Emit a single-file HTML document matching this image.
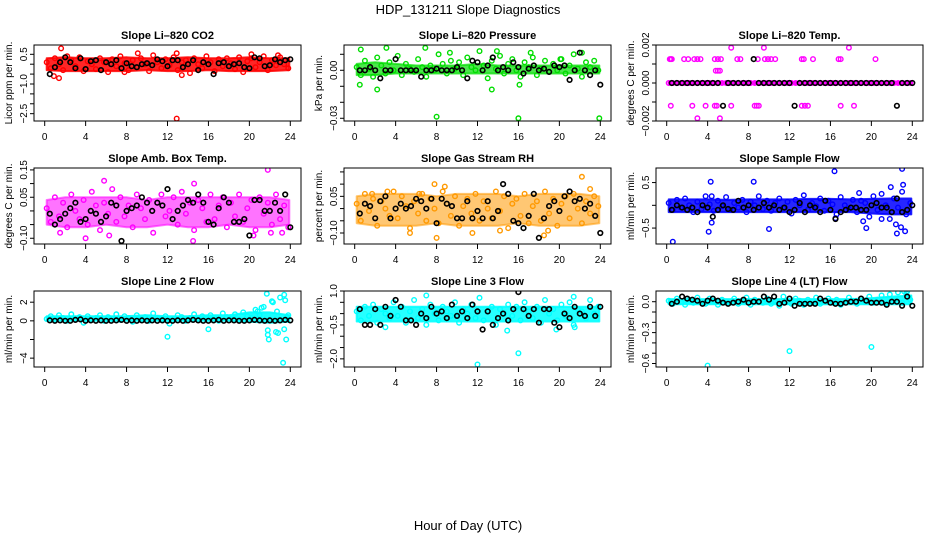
<!DOCTYPE html>
<html><head><meta charset="utf-8"><style>
html,body{margin:0;padding:0;background:#fff;}
svg{display:block;font-family:"Liberation Sans",Arial,sans-serif;}
</style></head><body>
<svg id="chart" width="936" height="540" viewBox="0 0 936 540" xmlns="http://www.w3.org/2000/svg">
<text x="468" y="14" text-anchor="middle" font-size="13">HDP_131211  Slope Diagnostics</text>
<text x="468" y="530" text-anchor="middle" font-size="13">Hour of Day (UTC)</text>
</svg>
<script>
const xTicks = [0,4,8,12,16,20,24];
const bandHours = [0.2,2,4,6,8,10,12,14,16,18,20,22,23.9];

const co2Vals = [0.1,-0.2,0.3,0.0,-0.3,0.4,0.2,-0.1,0.35,-0.35,0.15,0.0,-0.25,0.3,0.1,-0.4,0.25,-0.1,0.4,0.05,-0.3,0.2,-0.15,0.3,0.0,-0.35,0.45,0.1,-0.2,0.25,-0.05,0.35,-0.3,0.1,0.2,-0.45,0.3,0.0,-0.2,0.4,0.1,-0.35,0.25,-0.1,0.3,0.05,-0.25,0.35,-0.4,0.15,0.3,-0.15,0.1,0.4,-0.3,0.2,-0.05,0.35,0.0,-0.2];
const co2Black = [-0.5,-0.15,0.1,0.35,0.1,-0.2,0.3,-0.25,0.15,0.2,-0.3,0.1,0.0,0.2,-0.2,0.05,-0.1,-0.15,0.0,0.05,-0.05,0.25,0.15,-0.1,0.2,0.2,-0.15,0.0,0.2,-0.3,0.1,0.0,-0.5,0.05,0.1,-0.1,0.0,0.05,-0.15,-0.2,0.35,0.3,-0.1,-0.05,0.25,0.1,0.2,0.25];
const co2OutH = [1.6,1.4,0.9,12.9,9.1,12.9,13.4,20.2,22.8,7.8];
const co2OutV = [0.8,-0.7,-0.6,-2.75,0.55,0.55,-0.55,0.5,0.45,-0.4];
const co2Lo = [-0.3,-0.35,-0.35,-0.35,-0.35,-0.3,-0.35,-0.35,-0.3,-0.35,-0.35,-0.35,-0.3];
const co2Hi = [0.3,0.35,0.3,0.3,0.35,0.3,0.3,0.35,0.3,0.3,0.35,0.3,0.3];

const presVals = [0.002,-0.003,0.006,0.001,-0.004,0.008,0.003,-0.002,0.005,0.000,0.009,-0.003,0.004,0.001,-0.001,0.007,0.002,-0.004,0.003,0.000,0.010,0.004,-0.002,0.006,0.001,0.005,-0.003,0.008,0.002,0.000,0.012,0.003,-0.005,0.006,0.001,0.009,-0.002,0.004,0.007,0.000,-0.004,0.005,0.002,0.008,-0.003,0.001,0.006,-0.001,0.004,0.000,0.007,-0.002,0.003,0.010,0.001,-0.004,0.005,0.002,0.006,0.000];
const presBlack = [0,0,0.002,0,-0.005,0,0,0.007,0,0,0,0,-0.004,0,0,0.001,0,0,0,0.002,0,-0.005,0.006,0.005,0,0.003,0.008,0,0.002,0,0.005,0.002,-0.002,0.001,0.003,0,0.001,-0.001,0.003,0.002,0.003,-0.006,0,0.011,0,-0.003,0,-0.009];
const presOutH = [8.0,16.0,23.9,2.2,13.4,0.6,3.1,6.9,22.2,13.9,9.3,20.1,17.2,0.5,16.1];
const presOutV = [-0.029,-0.030,-0.030,-0.012,-0.012,0.013,0.014,0.014,0.011,0.012,0.011,0.007,0.011,-0.009,-0.009];
const presLo = [-0.003,-0.003,-0.002,-0.002,-0.002,-0.002,-0.002,-0.002,-0.002,-0.002,-0.002,-0.002,-0.002];
const presHi = [0.004,0.005,0.004,0.003,0.003,0.003,0.004,0.003,0.003,0.003,0.003,0.003,0.003];

const tempVals = [0,0,0,0,0,0,0,0,0,0,0,0,0,0,0,0,0,0,0,0,0,0,0,0,0,0,0,0,0,0,0,0,0,0,0,0,0,0,0,0,0,0,0,0,0,0,0,0,0,0,0,0,0,0,0,0,0,0,0,0];
const tempBlack = [0,0,0,0,0,0,0,0,0,0,-0.0012,0,0,0,0,0,0.00126,0,0,0,0,0,0,0,-0.0012,0,0,0,0,0,0,0,0,0,0,0,0,0,0,0,0,0,0,0,-0.0012,0,0,0];
const tempOutH = [0.3,0.4,0.5,1.7,2.1,2.7,3.0,3.3,4.7,5.0,5.3,6.9,7.2,8.9,9.6,9.9,10.2,10.6,13.2,13.4,14.3,16.8,17.0,20.4,6.3,9.5,17.8,4.8,5.0,5.2,0.4,2.5,3.8,4.7,4.9,6.3,8.6,8.8,9.0,13.2,13.5,13.8,17.0,18.3,3.0,5.2];
const tempOutV = [0.00126,0.00126,0.00126,0.00126,0.00126,0.00126,0.00126,0.00126,0.00126,0.00126,0.00126,0.00126,0.00126,0.00126,0.00126,0.00126,0.00126,0.00126,0.00126,0.00126,0.00126,0.00126,0.00126,0.00126,0.00186,0.00186,0.00186,0.00065,0.00065,0.00065,-0.0012,-0.0012,-0.0012,-0.0012,-0.0012,-0.0012,-0.0012,-0.0012,-0.0012,-0.0012,-0.0012,-0.0012,-0.0012,-0.0012,-0.00186,-0.00186];
const tempLo = [-0.00005,-0.00005,-0.00005,-0.00005,-0.00005,-0.00005,-0.00005,-0.00005,-0.00005,-0.00005,-0.00005,-0.00005,-0.00005];
const tempHi = [0.00005,0.00005,0.00005,0.00005,0.00005,0.00005,0.00005,0.00005,0.00005,0.00005,0.00005,0.00005,0.00005];

const ambVals = [0.01,-0.04,0.05,-0.02,0.03,-0.06,0.06,0.00,-0.03,0.04,-0.05,0.07,0.02,-0.07,0.03,-0.01,0.08,-0.04,0.05,-0.02,0.02,-0.06,0.06,0.01,-0.03,0.04,-0.08,0.03,0.06,-0.02,0.00,0.05,-0.05,0.07,-0.01,0.03,-0.07,0.04,0.01,-0.04,0.06,-0.03,0.02,0.05,-0.06,0.03,-0.02,0.06,-0.04,0.01,0.04,-0.07,0.05,-0.01,0.03,-0.05,0.06,-0.03,0.02,-0.06];
const ambBlack = [-0.01,-0.05,-0.03,-0.01,0.01,0.03,-0.04,-0.03,0.00,-0.01,-0.04,-0.02,0.03,0.02,-0.11,0.00,0.01,0.02,0.05,0.03,0.00,0.03,0.02,0.08,-0.03,0.00,0.02,0.04,0.03,0.06,0.03,-0.04,-0.05,0.01,0.05,0.03,-0.04,-0.04,-0.03,-0.09,0.04,0.04,0.00,0.00,0.03,0.00,0.06,-0.06];
const ambOutH = [21.8,14.5,4.0,5.8,14.6,1.5,20.4,6.3,22.1,23.2];
const ambOutV = [0.15,-0.11,-0.10,0.11,0.10,-0.08,-0.09,-0.09,-0.08,-0.08];
const ambLo = [-0.05,-0.06,-0.06,-0.05,-0.06,-0.06,-0.05,-0.06,-0.06,-0.05,-0.06,-0.06,-0.05];
const ambHi = [0.04,0.05,0.05,0.05,0.05,0.04,0.05,0.05,0.05,0.05,0.05,0.05,0.04];

const rhVals = [0.02,-0.05,0.06,-0.01,0.04,-0.07,0.03,0.00,-0.03,0.07,-0.04,0.05,0.01,-0.08,0.03,-0.02,0.06,-0.05,0.04,0.00,-0.06,0.07,0.02,-0.03,0.05,-0.07,0.01,0.04,-0.02,0.06,-0.05,0.03,0.00,-0.04,0.07,-0.01,0.05,-0.08,0.02,0.04,-0.03,0.06,-0.06,0.01,0.03,-0.05,0.07,-0.02,0.04,-0.07,0.02,0.05,-0.04,0.06,0.00,-0.06,0.03,-0.02,0.05,0.01];
const rhBlack = [-0.02,0.02,0.01,-0.04,0.03,0.05,-0.04,0.00,0.02,0.00,0.01,0.04,0.03,0.00,0.04,-0.06,0.04,0.02,0.01,-0.04,-0.04,0.03,-0.04,-0.01,-0.04,0.03,-0.04,-0.01,0.10,0.06,-0.05,-0.06,-0.08,-0.03,0.06,-0.12,-0.04,0.01,0.03,-0.01,0.05,0.07,0.03,0.04,0.00,0.02,-0.03,-0.10];
const rhOutH = [7.8,22.2,8.0,18.5,23.0,1.7,3.2,5.4,8.8,14.2,18.9,11.5,6.3];
const rhOutV = [0.10,0.13,-0.12,-0.11,0.08,0.06,0.07,-0.10,0.09,-0.09,-0.09,-0.10,0.06];
const rhLo = [-0.06,-0.07,-0.07,-0.07,-0.06,-0.07,-0.07,-0.07,-0.06,-0.07,-0.07,-0.07,-0.06];
const rhHi = [0.05,0.06,0.06,0.06,0.05,0.06,0.06,0.06,0.05,0.06,0.06,0.06,0.05];

const flowVals = [0.05,-0.1,0.12,-0.05,0.15,0.0,-0.15,0.08,-0.08,0.2,0.02,-0.12,0.1,-0.02,0.18,-0.1,0.05,-0.05,0.12,-0.15,0.08,0.0,0.2,-0.08,0.1,-0.12,0.05,0.15,-0.05,0.08,-0.18,0.12,0.0,0.22,-0.1,0.05,-0.02,0.15,-0.12,0.1,0.02,-0.2,0.18,0.0,-0.08,0.12,-0.15,0.1,0.05,-0.25,0.2,-0.1,0.25,0.0,-0.3,0.15,-0.05,0.3,-0.2,0.05];
const flowBlack = [-0.1,0.0,-0.05,-0.1,-0.05,-0.15,0.0,-0.05,-0.25,-0.1,0.0,-0.08,-0.1,0.1,-0.05,0.0,-0.1,-0.05,0.05,-0.05,0.0,-0.1,-0.05,-0.15,-0.1,0.05,-0.15,0.0,-0.05,-0.15,0.1,-0.1,-0.3,-0.15,-0.1,-0.05,-0.05,-0.1,-0.1,0.0,0.05,-0.05,-0.05,-0.15,0.15,-0.15,-0.1,0.0];
const flowOutH = [0.6,4.1,4.3,4.4,8.5,10.0,16.4,16.5,23.0,23.1,22.5,21.9,22.9,23.3,19.5,19.2,18.8,22.4,21.0,4.4];
const flowOutV = [-0.8,-0.58,0.52,-0.38,0.52,-0.52,0.75,-0.28,0.8,0.45,-0.62,0.4,-0.48,-0.57,-0.5,-0.35,0.27,-0.42,-0.3,0.2];
const flowLo = [-0.15,-0.15,-0.15,-0.15,-0.15,-0.15,-0.15,-0.15,-0.15,-0.15,-0.18,-0.2,-0.2];
const flowHi = [0.13,0.13,0.13,0.12,0.13,0.13,0.13,0.14,0.14,0.13,0.14,0.15,0.15];

const l2Vals = [0.2,0.5,0.1,0.6,0.3,0.0,0.7,0.2,0.4,-0.2,0.5,0.1,0.3,0.6,0.0,0.4,0.2,0.7,0.1,0.5,0.3,-0.1,0.6,0.2,0.4,0.0,0.8,0.3,0.1,0.5,-0.3,0.2,0.6,0.4,0.0,0.3,0.7,0.1,0.5,0.2,0.6,0.3,0.0,0.8,0.4,0.2,0.7,0.1,0.9,0.5,0.3,1.2,0.6,1.5,-1.0,2.1,-1.2,2.5,-0.9,0.6];
const l2Black = [0.05,0.0,0.05,0.0,0.0,0.1,0.15,0.0,0.05,0.0,0.05,0.0,0.0,0.05,0.1,0.0,0.05,0.0,0.05,0.0,0.05,0.0,0.05,0.0,0.0,0.05,0.0,0.05,0.1,0.05,0.0,0.0,0.05,0.1,0.0,0.05,0.05,0.0,0.0,0.05,0.1,0.05,0.0,0.05,0.0,0.05,0.1,0.05];
const l2OutH = [12,16,21.7,21.8,21.9,22.3,22.8,23.3,23.4,23.6,23.7,23.5,20.8,21.2,22.7];
const l2OutV = [-1.7,-0.9,2.9,-1.5,-2.0,2.0,-1.3,-4.5,2.8,-2.0,0.4,2.2,1.0,1.4,1.0];
const l2Lo = [0.0,0.0,0.0,0.0,0.0,0.0,0.0,0.0,0.0,0.0,-0.1,-0.2,-0.1];
const l2Hi = [0.5,0.5,0.5,0.5,0.5,0.6,0.5,0.5,0.6,0.6,0.9,0.9,0.6];

const l3Vals = [0.1,-0.3,0.3,-0.1,0.4,-0.4,0.2,0.0,-0.2,0.5,-0.1,0.3,-0.4,0.1,0.6,-0.2,0.2,-0.5,0.4,0.0,-0.3,0.3,0.1,-0.1,0.5,-0.4,0.2,0.0,0.4,-0.2,0.7,-0.3,0.1,0.3,-0.5,0.2,0.0,0.4,-0.1,0.3,-0.3,0.5,0.1,-0.2,0.3,-0.4,0.6,0.0,0.2,-0.3,0.4,-0.1,0.5,-0.5,0.2,0.1,-0.2,0.6,0.0,0.3];
const l3Black = [0.2,-0.5,-0.5,0.2,-0.5,0.3,-0.1,0.6,0.3,-0.3,-0.3,-0.5,0.0,-0.2,0.3,0.0,0.1,-0.2,0.4,-0.1,0.1,-0.2,0.4,0.1,-0.7,0.1,-0.5,-0.2,0.0,-0.3,0.2,0.95,0.2,-0.1,0.2,-0.4,0.2,0.2,-0.4,-0.6,0.0,-0.2,0.3,0.0,-0.1,0.3,-0.1,0.3];
const l3OutH = [12,16,3,14.9,19.7,21.4,7,21.5];
const l3OutV = [-2.25,-1.75,-0.6,-0.75,-0.7,0.75,0.8,-0.6];
const l3Lo = [-0.35,-0.35,-0.35,-0.35,-0.35,-0.35,-0.35,-0.35,-0.35,-0.35,-0.35,-0.35,-0.35];
const l3Hi = [0.3,0.3,0.3,0.3,0.3,0.3,0.3,0.3,0.3,0.3,0.3,0.3,0.3];

const l4Vals = [0.01,-0.02,0.03,0.0,-0.03,0.02,-0.01,0.04,0.0,-0.02,0.03,0.01,-0.03,0.02,0.0,-0.01,0.03,-0.02,0.01,0.04,-0.03,0.02,0.0,-0.01,0.03,-0.02,0.01,-0.04,0.05,0.0,-0.02,0.03,0.01,-0.03,0.02,0.0,0.04,-0.02,0.01,0.03,-0.01,0.02,-0.03,0.0,0.04,0.01,-0.02,0.03,0.0,0.05,-0.01,0.02,0.06,-0.02,0.07,0.01,0.09,-0.01,0.08,0.02];
const l4Black = [-0.02,0.0,0.05,0.03,0.02,0.01,-0.02,0.01,0.03,0.01,-0.01,-0.02,-0.01,0.0,0.02,-0.01,0.0,0.0,0.05,0.02,0.05,-0.02,-0.01,0.03,-0.04,-0.02,-0.02,-0.02,-0.02,0.03,0.01,-0.01,-0.02,-0.02,-0.01,0.0,0.0,0.03,0.01,-0.01,-0.01,-0.01,-0.03,0.0,0.0,-0.04,0.05,-0.04];
const l4OutH = [4,12,20,23.2,23.5];
const l4OutV = [-0.62,-0.48,-0.44,0.1,0.1];
const l4Lo = [-0.025,-0.025,-0.025,-0.025,-0.025,-0.025,-0.025,-0.025,-0.025,-0.025,-0.025,-0.025,-0.025];
const l4Hi = [0.025,0.025,0.025,0.025,0.025,0.025,0.025,0.025,0.025,0.025,0.035,0.05,0.06];

const NS = "http://www.w3.org/2000/svg";
const svg = document.getElementById('chart');
function mk(tag, attrs, parent){ const e=document.createElementNS(NS,tag); for(const k in attrs) e.setAttribute(k,attrs[k]); (parent||svg).appendChild(e); return e; }

const cols = [{l:34,r:301,x0:44.7,x1:290.3},{l:344,r:611,x0:354.7,x1:600.3},{l:656,r:923,x0:666.7,x1:912.3}];
const rows = [{t:45,b:121},{t:168,b:244},{t:291,b:367}];

const panels = [
 {id:'co2',title:'Slope Li\u2013820 CO2',ylab:'Licor ppm per min.',c:0,r:0,top:0.97,bot:-2.87,ticks:[0.5,0,-0.5,-1,-1.5,-2,-2.5],labels:[[0.5,'0.5'],[-1,'\u22121.0'],[-2.5,'\u22122.5']],color:'#ff0000',op:0.85,v:co2Vals,k:co2Black,oh:co2OutH,ov:co2OutV,lo:co2Lo,hi:co2Hi},
 {id:'pressure',title:'Slope Li\u2013820 Pressure',ylab:'kPa per min.',c:1,r:0,top:0.0158,bot:-0.0317,ticks:[0.01,0,-0.01,-0.02,-0.03],labels:[[0,'0.00'],[-0.03,'\u22120.03']],color:'#00dd00',op:0.7,v:presVals,k:presBlack,oh:presOutH,ov:presOutV,lo:presLo,hi:presHi},
 {id:'temp',title:'Slope Li\u2013820 Temp.',ylab:'degrees C per min.',c:2,r:0,top:0.002,bot:-0.002,ticks:[0.002,0.001,0,-0.001,-0.002],labels:[[0.002,'0.002'],[0,'0.000'],[-0.002,'\u22120.002']],color:'#ff00ff',op:1,v:tempVals,k:tempBlack,oh:tempOutH,ov:tempOutV,lo:tempLo,hi:tempHi},
 {id:'ambtemp',title:'Slope Amb. Box Temp.',ylab:'degrees C per min.',c:0,r:1,top:0.157,bot:-0.121,ticks:[0.15,0.1,0.05,0,-0.05,-0.1],labels:[[0.15,'0.15'],[0.05,'0.05'],[-0.1,'\u22120.10']],color:'#ff00ff',op:0.55,v:ambVals,k:ambBlack,oh:ambOutH,ov:ambOutV,lo:ambLo,hi:ambHi},
 {id:'rh',title:'Slope Gas Stream RH',ylab:'percent per min.',c:1,r:1,top:0.166,bot:-0.145,ticks:[0.15,0.1,0.05,0,-0.05,-0.1],labels:[[0.05,'0.05'],[-0.1,'\u22120.10']],color:'#ff9900',op:0.55,v:rhVals,k:rhBlack,oh:rhOutH,ov:rhOutV,lo:rhLo,hi:rhHi},
 {id:'sampleflow',title:'Slope Sample Flow',ylab:'ml/min per min.',c:2,r:1,top:0.82,bot:-0.85,ticks:[0.5,0,-0.5],labels:[[0.5,'0.5'],[-0.5,'\u22120.5']],color:'#0000ff',op:0.85,v:flowVals,k:flowBlack,oh:flowOutH,ov:flowOutV,lo:flowLo,hi:flowHi},
 {id:'line2',title:'Slope Line 2 Flow',ylab:'ml/min per min.',c:0,r:2,top:3.2,bot:-4.95,ticks:[2,0,-2,-4],labels:[[2,'2'],[0,'0'],[-4,'\u22124']],color:'#00ffff',op:0.9,v:l2Vals,k:l2Black,oh:l2OutH,ov:l2OutV,lo:l2Lo,hi:l2Hi},
 {id:'line3',title:'Slope Line 3 Flow',ylab:'ml/min per min.',c:1,r:2,top:1.0,bot:-2.36,ticks:[1,0.5,0,-0.5,-1,-1.5,-2],labels:[[1,'1.0'],[-0.5,'\u22120.5'],[-2,'\u22122.0']],color:'#00ffff',op:0.85,v:l3Vals,k:l3Black,oh:l3OutH,ov:l3OutV,lo:l3Lo,hi:l3Hi},
 {id:'line4',title:'Slope Line 4 (LT) Flow',ylab:'ml/min per min.',c:2,r:2,top:0.104,bot:-0.634,ticks:[0,-0.1,-0.2,-0.3,-0.4,-0.5,-0.6],labels:[[0,'0.0'],[-0.3,'\u22120.3'],[-0.6,'\u22120.6']],color:'#00ffff',op:0.9,v:l4Vals,k:l4Black,oh:l4OutH,ov:l4OutV,lo:l4Lo,hi:l4Hi}
];

panels.forEach(p=>{
  const C=cols[p.c], R=rows[p.r];
  const xs=h=>C.x0+(h/24)*(C.x1-C.x0);
  const ys=v=>R.t+(p.top-v)/(p.top-p.bot)*(R.b-R.t);
  const g=mk('g',{});
  
  
  const clip=mk('clipPath',{id:'clip-'+p.id},g);
  mk('rect',{x:C.l,y:R.t,width:C.r-C.l,height:R.b-R.t},clip);
  const t=mk('text',{x:(C.l+C.r)/2,y:R.t-6,'text-anchor':'middle','font-size':'11','font-weight':'bold'},g);
  t.textContent=p.title;
  
  
  const yl=mk('text',{x:0,y:0,'text-anchor':'middle','font-size':'10',transform:`translate(${C.l-22},${(R.t+R.b)/2}) rotate(-90)`},g);
  yl.textContent=p.ylab;
  
  
  xTicks.forEach(h=>{
    const x=xs(h);
    mk('line',{x1:x,y1:R.b,x2:x,y2:R.b+5,stroke:'#000','stroke-width':1},g);
    const tl=mk('text',{x:x,y:R.b+19,'text-anchor':'middle','font-size':'10'},g);
    tl.textContent=String(h);
    
    
  });
  p.ticks.forEach(v=>{
    const y=ys(v);
    mk('line',{x1:C.l-4,y1:y,x2:C.l,y2:y,stroke:'#000','stroke-width':1},g);
  });
  p.labels.forEach(lb=>{
    const y=ys(lb[0]);
    const tl=mk('text',{x:0,y:0,'text-anchor':'middle','font-size':'10',transform:`translate(${C.l-7},${y}) rotate(-90)`},g);
    tl.textContent=lb[1];
    
    
  });
  const plot=mk('g',{'clip-path':`url(#clip-${p.id})`},g);
  
  
  let d='';
  bandHours.forEach((h,i)=>{ d+=(i?'L':'M')+xs(h).toFixed(1)+','+ys(p.hi[i]).toFixed(1); });
  for(let i=bandHours.length-1;i>=0;i--) d+='L'+xs(bandHours[i]).toFixed(1)+','+ys(p.lo[i]).toFixed(1);
  const band=mk('path',{d:d+'Z',fill:p.color,'fill-opacity':p.op,stroke:p.color,'stroke-opacity':p.op,'stroke-width':2,'stroke-linejoin':'round'},plot);
  
  
  const pt=(h,v,col,nm,w)=>{
    const c=mk('circle',{cx:xs(h).toFixed(1),cy:ys(v).toFixed(1),r:2.3,fill:'none',stroke:col,'stroke-width':w},plot);
    
    
  };
  p.v.forEach((v,i)=>pt(0.2+i*0.4,v,p.color,'data-point',1.4));
  p.oh.forEach((h,i)=>pt(h,p.ov[i],p.color,'outlier-point',1.4));
  p.k.forEach((v,i)=>pt(0.5+i*0.5,v,'#000','hourly-point',1.6));
  const box=mk('rect',{x:C.l,y:R.t,width:C.r-C.l,height:R.b-R.t,fill:'none',stroke:'#000','stroke-width':1},g);
  
  
});
</script>
</body></html>
